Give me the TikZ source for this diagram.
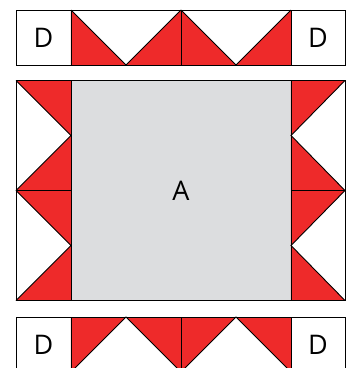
\documentclass[tikz,border=0pt]{standalone}
\usepackage{fontspec}
\setmainfont{Open Sans}
\definecolor{qred}{RGB}{238,42,42}
\definecolor{qgray}{RGB}{220,221,223}
\tikzset{
  redpatch/.style={fill=qred,draw=black,line width=0.9pt,line join=miter},
  seam/.style={draw=black,line width=0.9pt},
  blocklabel/.style={font=\fontsize{27}{27}\selectfont,inner sep=0pt,anchor=center}
}
\begin{document}
\begin{tikzpicture}[x=1pt,y=-1pt]
\useasboundingbox (0,0) rectangle (349,368);
\clip (0,0) rectangle (349,368);
% ---------- top row ----------
\foreach \a in {71,181}{
  \fill[qred] (\a,10) -- (\a,65) -- (\a+55,65) -- cycle;
  \fill[qred] (\a+55,65) -- (\a+110,65) -- (\a+110,10) -- cycle;
  \draw[seam] (\a,10) -- (\a+55,65) -- (\a+110,10);
}
\draw[seam] (16,10) rectangle (345,65);
\draw[seam] (71,10) -- (71,65) (181,10) -- (181,65) (291,10) -- (291,65);
\node[blocklabel] (d1) at (43.5,38) {D};
\node[blocklabel] (d2) at (318,38) {D};
% ---------- middle block ----------
\fill[qgray] (71,80.5) rectangle (291,300.5);
\foreach \b in {80.5,190.5}{
  % left column
  \fill[qred] (16,\b) -- (71,\b) -- (71,\b+55) -- cycle;
  \fill[qred] (71,\b+55) -- (71,\b+110) -- (16,\b+110) -- cycle;
  \draw[seam] (16,\b) -- (71,\b+55) -- (16,\b+110);
  % right column
  \fill[qred] (291,\b) -- (345,\b) -- (291,\b+55) -- cycle;
  \fill[qred] (291,\b+55) -- (291,\b+110) -- (345,\b+110) -- cycle;
  \draw[seam] (345,\b) -- (291,\b+55) -- (345,\b+110);
}
\draw[seam] (16,80.5) rectangle (345,300.5);
\draw[seam] (71,80.5) -- (71,300.5) (291,80.5) -- (291,300.5);
\draw[seam] (16,190.5) -- (71,190.5) (291,190.5) -- (345,190.5);
\node[blocklabel] (a) at (181,190.5) {A};
% ---------- bottom row ----------
\foreach \a in {71,181}{
  \fill[qred] (\a,317) -- (\a+55,317) -- (\a,372) -- cycle;
  \fill[qred] (\a+55,317) -- (\a+110,317) -- (\a+110,372) -- cycle;
  \draw[seam] (\a,372) -- (\a+55,317) -- (\a+110,372);
}
\draw[seam] (16,317) rectangle (345,372);
\draw[seam] (71,317) -- (71,372) (181,317) -- (181,372) (291,317) -- (291,372);
\node[blocklabel] (d3) at (43.5,345) {D};
\node[blocklabel] (d4) at (318,345) {D};
\end{tikzpicture}
\end{document}
